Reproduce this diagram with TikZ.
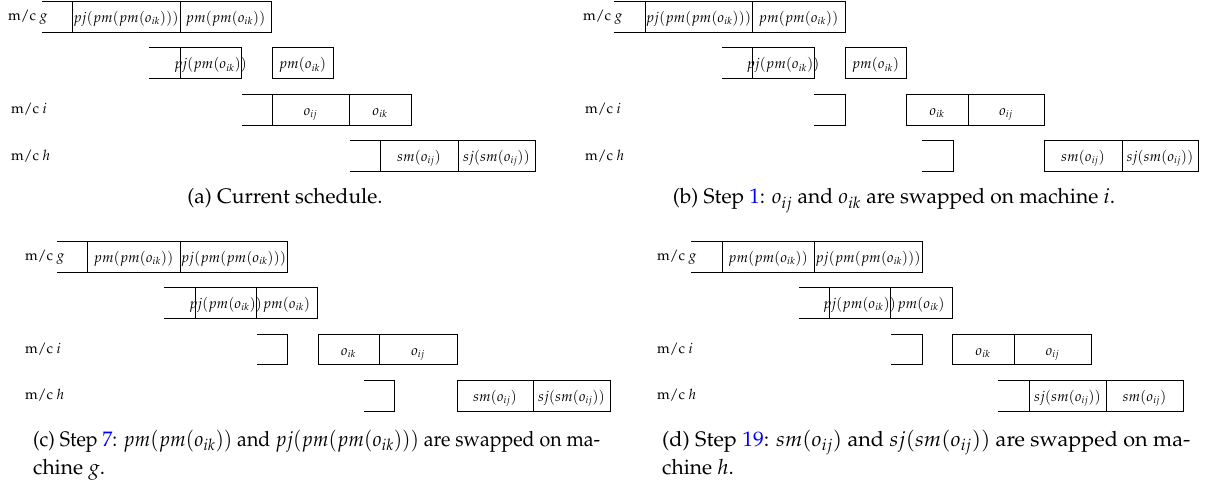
\documentclass[tikz,border=0pt]{standalone}
\usepackage[T1]{fontenc}
\usepackage{mathpazo}
\usepackage{xcolor}
\usepackage{graphicx}
\newcommand\bh{15.4}
\tikzset{
  lbl/.style={font=\fontsize{14.4}{17}\selectfont, inner sep=0pt},
  captext/.style={font=\fontsize{21}{28}\selectfont, inner sep=0pt},
  boxline/.style={draw, line width=1pt}
}
% job box: x1, x2, yc, name, text
\newcommand\jb[5]{%
  \draw[boxline] (#1,#3-\bh) rectangle (#2,#3+\bh);
  \node[lbl, anchor=base] (#4) at ({(#1+#2)/2},#3+5.5) {#5};}
% idle segment open on both sides (right side given by next box)
\newcommand\gapl[3]{%
  \draw[boxline] (#1,#3-\bh) -- (#2,#3-\bh) (#1,#3+\bh) -- (#2,#3+\bh);}
% idle segment closed on the right
\newcommand\gapc[3]{%
  \draw[boxline] (#1,#3-\bh) -- (#2,#3-\bh) -- (#2,#3+\bh) -- (#1,#3+\bh);}
\newcommand\mlab[4]{\node[lbl, anchor=base west] (#1) at (#2,#3+4) {m/c $#4$};}
\begin{document}
\begin{tikzpicture}[x=1pt,y=-1pt]
\useasboundingbox (0,0) rectangle (1206,481);
% ---------- (a)
\mlab{ag}{8}{17}{g}
\gapl{42}{72}{17}
\jb{72}{180}{17}{ag1}{$pj(pm(pm(o_{ik})))$}
\jb{180}{271}{17}{ag2}{$pm(pm(o_{ik}))$}
\gapl{149}{180}{63.4}
\jb{180}{241}{63.4}{ar1}{$pj(pm(o_{ik}))$}
\jb{272}{333}{63.4}{ar2}{$pm(o_{ik})$}
\mlab{ai}{11}{109.8}{i}
\gapl{242}{272}{109.8}
\jb{272}{349}{109.8}{ai1}{$o_{ij}$}
\jb{349}{411}{109.8}{ai2}{$o_{ik}$}
\mlab{ah}{11}{156.2}{h}
\gapl{350}{380}{156.2}
\jb{380}{458}{156.2}{ah1}{$sm(o_{ij})$}
\jb{458}{535}{156.2}{ah2}{$sj(sm(o_{ij}))$}
\node[captext, anchor=base] (capa) at (285,204) {(a) Current schedule.};
% ---------- (b)
\mlab{bg}{583}{17}{g}
\gapl{614}{645}{17}
\jb{645}{752}{17}{bg1}{$pj(pm(pm(o_{ik})))$}
\jb{752}{845}{17}{bg2}{$pm(pm(o_{ik}))$}
\gapl{722}{752}{63.4}
\jb{752}{814}{63.4}{br1}{$pj(pm(o_{ik}))$}
\jb{845}{906}{63.4}{br2}{$pm(o_{ik})$}
\mlab{bi}{585}{109.8}{i}
\gapc{814}{845}{109.8}
\jb{906}{968}{109.8}{bi1}{$o_{ik}$}
\jb{968}{1044}{109.8}{bi2}{$o_{ij}$}
\mlab{bhh}{585}{156.2}{h}
\gapc{922}{953}{156.2}
\jb{1044}{1122}{156.2}{bh1}{$sm(o_{ij})$}
\jb{1122}{1198}{156.2}{bh2}{$sj(sm(o_{ij}))$}
\node[captext, anchor=base] (capb) at (894,204) {(b) Step \textcolor{blue}{1}: $o_{ij}$ and $o_{ik}$ are swapped on machine $i$.};
% ---------- (c)
\mlab{cg}{25}{256.7}{g}
\gapl{57}{87}{256.7}
\jb{87}{180}{256.7}{cg1}{$pm(pm(o_{ik}))$}
\jb{180}{287}{256.7}{cg2}{$pj(pm(pm(o_{ik})))$}
\gapl{164}{195}{303.1}
\jb{195}{256}{303.1}{cr1}{$pj(pm(o_{ik}))$}
\jb{256}{317}{303.1}{cr2}{$pm(o_{ik})$}
\mlab{ci}{25}{349.5}{i}
\gapc{257}{287}{349.5}
\jb{318}{379}{349.5}{ci1}{$o_{ik}$}
\jb{379}{457}{349.5}{ci2}{$o_{ij}$}
\mlab{ch}{25}{395.9}{h}
\gapc{364}{394}{395.9}
\jb{457}{533}{395.9}{ch1}{$sm(o_{ij})$}
\jb{533}{610}{395.9}{ch2}{$sj(sm(o_{ij}))$}
\node[captext, anchor=base west] (capc1) at (33,446) {\resizebox{567pt}{\height}{(c) Step \textcolor{blue}{7}: $pm(pm(o_{ik}))$ and $pj(pm(pm(o_{ik})))$ are swapped on ma-}};
\node[captext, anchor=base west] (capc2) at (33,474) {chine $g$.};
% ---------- (d)
\mlab{dg}{657}{256.7}{g}
\gapl{691}{722}{256.7}
\jb{722}{814}{256.7}{dg1}{$pm(pm(o_{ik}))$}
\jb{814}{922}{256.7}{dg2}{$pj(pm(pm(o_{ik})))$}
\gapl{799}{829}{303.1}
\jb{829}{890}{303.1}{dr1}{$pj(pm(o_{ik}))$}
\jb{890}{952}{303.1}{dr2}{$pm(o_{ik})$}
\mlab{di}{657}{349.5}{i}
\gapc{891}{922}{349.5}
\jb{952}{1014}{349.5}{di1}{$o_{ik}$}
\jb{1014}{1091}{349.5}{di2}{$o_{ij}$}
\mlab{dh}{657}{395.9}{h}
\gapl{998}{1029}{395.9}
\jb{1029}{1106}{395.9}{dh1}{$sj(sm(o_{ij}))$}
\jb{1106}{1183}{395.9}{dh2}{$sm(o_{ij})$}
\node[captext, anchor=base west] (capd1) at (662,446) {\resizebox{528pt}{\height}{(d) Step \textcolor{blue}{19}: $sm(o_{ij})$ and $sj(sm(o_{ij}))$ are swapped on ma-}};
\node[captext, anchor=base west] (capd2) at (662,474) {chine $h$.};
\end{tikzpicture}
\end{document}
